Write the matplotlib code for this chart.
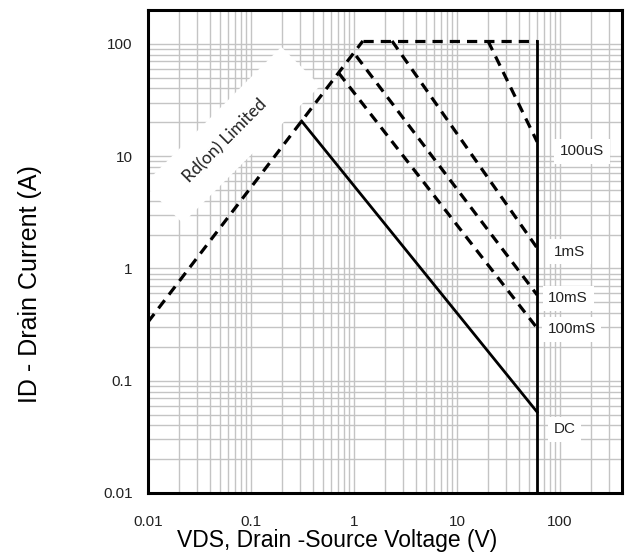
import matplotlib
matplotlib.use("Agg")
import matplotlib.pyplot as plt
from matplotlib.ticker import LogLocator, FixedLocator, FixedFormatter, NullFormatter

# Safe operating area curves (VDS in V, ID in A)
RD_V = [0.01, 1.22]
RD_I = [0.333, 106]
TOP_V = [1.22, 60]
TOP_I = [106, 106]
VMAX_V = [60, 60]
VMAX_I = [0.01, 106]
US100_V = [20, 60]
US100_I = [106, 13.4]
MS1_V = [2.34, 60]
MS1_I = [106, 1.52]
MS10_V = [1.05, 60]
MS10_I = [78, 0.58]
MS100_V = [0.71, 60]
MS100_I = [55, 0.294]
DC_V = [0.31, 60]
DC_I = [20.5, 0.0526]

CURVE_LABELS = ["100uS", "1mS", "10mS", "100mS", "DC"]
LABEL_V = [164, 125, 120, 130, 110]
LABEL_I = [11.1, 1.4, 0.545, 0.288, 0.037]

TICKS = [0.01, 0.1, 1, 10, 100]
TICK_LABELS = ["0.01", "0.1", "1", "10", "100"]

plt.rcParams["font.family"] = ["Liberation Sans", "DejaVu Sans"]

fig = plt.figure(figsize=(6.29, 5.54), dpi=100)
ax = fig.add_axes([148 / 629, (554 - 493) / 554, 474 / 629, 483 / 554])
ax.set_xscale("log")
ax.set_yscale("log")
ax.set_xlim(0.01, 400)
ax.set_ylim(0.01, 200)

ax.xaxis.set_major_locator(FixedLocator(TICKS))
ax.xaxis.set_major_formatter(FixedFormatter(TICK_LABELS))
ax.yaxis.set_major_locator(FixedLocator(TICKS))
ax.yaxis.set_major_formatter(FixedFormatter(TICK_LABELS))
for axis in (ax.xaxis, ax.yaxis):
    axis.set_minor_locator(LogLocator(base=10, subs=range(2, 10), numticks=20))
    axis.set_minor_formatter(NullFormatter())

ax.grid(which="both", color="#c4c4c4", linewidth=1.0)
ax.set_axisbelow(True)
ax.tick_params(which="both", length=0, labelsize=11, colors="#222222")
ax.tick_params(axis="x", pad=16)
ax.tick_params(axis="y", pad=11)

for sp in ax.spines.values():
    sp.set_linewidth(2.2)
    sp.set_color("black")

dash = dict(color="black", linewidth=2.3, linestyle=(0, (3.2, 2.2)))
solid = dict(color="black", linewidth=2.0)
ax.plot(RD_V, RD_I, **dash)
ax.plot(TOP_V, TOP_I, **dash)
ax.plot(US100_V, US100_I, **dash)
ax.plot(MS1_V, MS1_I, **dash)
ax.plot(MS10_V, MS10_I, **dash)
ax.plot(MS100_V, MS100_I, **dash)
ax.plot(DC_V, DC_I, **solid)
ax.plot(VMAX_V, VMAX_I, **solid)

for lab, v, i in zip(CURVE_LABELS, LABEL_V, LABEL_I):
    ax.text(v, i, lab, ha="center", va="center", fontsize=11, color="#222222",
            bbox=dict(facecolor="white", edgecolor="none", pad=4))

# white band behind the rotated label, longer on the upper-right side
ax.text(0.0654, 15.4, "\u00a0" * 3 + "Rd(on) Limited" + "\u00a0" * 7,
        ha="center", va="center", rotation=45, rotation_mode="anchor",
        fontsize=12.5, family=["Lato", "DejaVu Sans"], color="#222222",
        zorder=1, bbox=dict(facecolor="white", edgecolor="none", pad=14))

fig.text(337 / 629, 1 - 541 / 554, "VDS, Drain -Source Voltage (V)",
         ha="center", va="center", fontsize=16.5)
fig.text(30 / 629, 1 - 284 / 554, "ID - Drain Current (A)",
         ha="center", va="center", rotation=90, fontsize=18)

fig.savefig("out.png", dpi=100)
